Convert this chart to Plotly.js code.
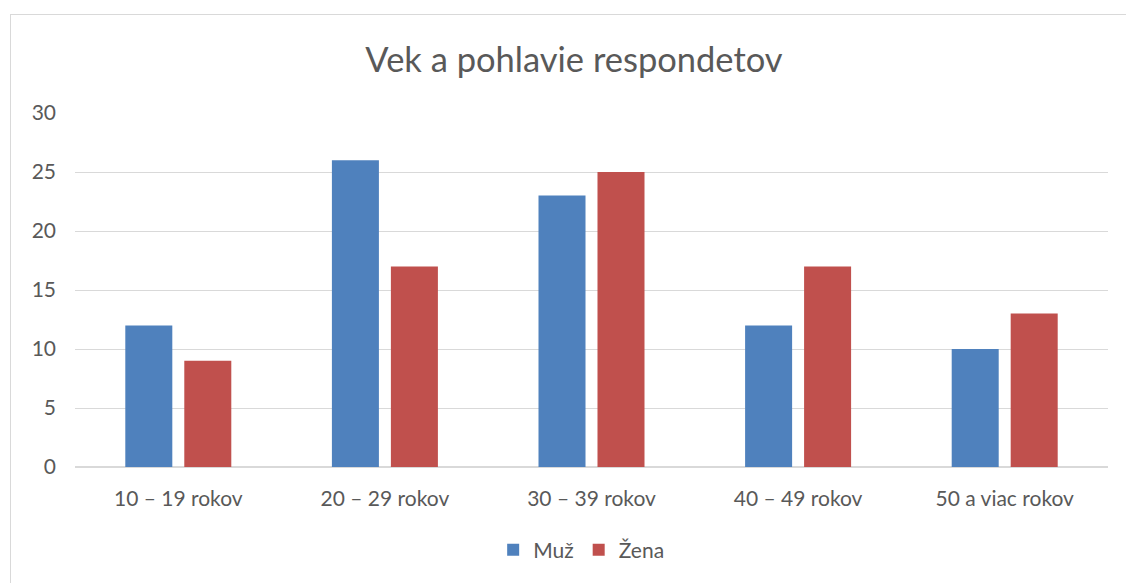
<!DOCTYPE html>
<html>
<head>
<meta charset="utf-8">
<script src="https://cdn.plot.ly/plotly-3.0.1.min.js"></script>
<style>
html,body{margin:0;padding:0;overflow:hidden;background:#fff;}
#frame{position:absolute;left:10px;top:14px;width:1130px;height:600px;border:1.5px solid #d9d9d9;box-sizing:border-box;pointer-events:none;z-index:5;}
#chart{position:absolute;left:0;top:0;width:1126px;height:583px;}
</style>
</head>
<body>
<div id="chart"></div>
<div id="frame"></div>
<script>
const categories = ["10 – 19 rokov", "20 – 29 rokov", "30 – 39 rokov", "40 – 49 rokov", "50 a viac rokov"];
const muz = [12, 26, 23, 12, 10];
const zena = [9, 17, 25, 17, 13];
const seriesNames = ["Muž", "Žena"];

const fontFam = "Lato, 'Open Sans', sans-serif";
const data = [
  {type: "bar", x: categories, y: muz, name: seriesNames[0], marker: {color: "#4F81BD"}, hoverinfo: "x+y+name"},
  {type: "bar", x: categories, y: zena, name: seriesNames[1], marker: {color: "#C0504D"}, hoverinfo: "x+y+name"}
];
const layout = {
  width: 1126, height: 583,
  margin: {l: 75, r: 18, t: 113, b: 116},
  paper_bgcolor: "#fff", plot_bgcolor: "#fff",
  font: {family: fontFam, color: "#595959", size: 21},
  title: {text: "Vek a pohlavie respondetov", font: {family: fontFam, size: 34.5, color: "#595959"},
          x: 574/1126, xanchor: "center", y: 1 - 60/583, yanchor: "middle", xref: "container", yref: "container"},
  barmode: "group", bargap: 0.429, bargroupgap: 0.203,
  xaxis: {type: "category", showgrid: false, zeroline: false, showline: false, ticks: "",
          tickfont: {size: 21, color: "#595959"}, ticklabelstandoff: 17},
  yaxis: {range: [0, 30], dtick: 5, tick0: 0, showgrid: true, gridcolor: "#d9d9d9", gridwidth: 1,
          zeroline: true, zerolinecolor: "#d9d9d9", zerolinewidth: 1.5, showline: false, ticks: "",
          tickfont: {size: 21, color: "#595959"}, ticklabelstandoff: 18},
  showlegend: true,
  legend: {orientation: "h", x: 0.49, xanchor: "center", y: (467-550)/354, yanchor: "middle",
           font: {size: 21, color: "#595959"}, itemwidth: 30, traceorder: "normal"}
};
Plotly.newPlot("chart", data, layout, {displayModeBar: false, staticPlot: false});
</script>
</body>
</html>
